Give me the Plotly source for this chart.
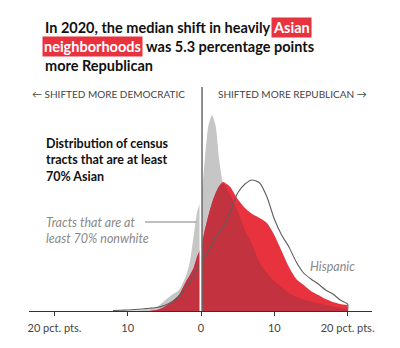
import plotly.graph_objects as go

# Shift in two-party margin, 2016 -> 2020 (percentage points, + = more Republican)
shift = [-12, -11, -10, -9, -8, -7, -6, -5, -4, -3, -2, -1.5, -1, -0.5, 0,
         0.5, 1, 1.5, 2, 2.5, 3, 3.5, 4, 5, 6, 7, 8, 9, 10, 11, 12, 13, 14,
         15, 16, 17, 18, 19, 20]

# Density of census tracts (relative units) for each group
nonwhite = [0, 0, 0, 0.05, 0.1, 0.2, 0.4, 1.0, 1.6, 2.1, 3.6, 5.0, 7.5, 10.0, 11.1,
            15.0, 18.5, 19.6, 18.5, 15.0, 12.8, 12.2, 11.6, 10.0, 8.1, 6.6, 4.8, 3.8,
            3.0, 2.4, 1.8, 1.4, 1.15, 0.95, 0.8, 0.6, 0.45, 0.3, 0.2]
asian = [0, 0, 0, 0, 0, 0, 0.1, 0.4, 0.9, 1.6, 3.0, 3.6, 4.3, 5.5, 6.3,
         8.0, 9.5, 10.8, 11.8, 12.5, 12.9, 12.7, 12.4, 11.2, 10.3, 9.7, 9.3, 8.8,
         7.6, 6.0, 4.4, 3.2, 2.6, 2.0, 1.6, 1.2, 0.9, 0.7, 0.6]
hispanic = [0.05, 0.07, 0.1, 0.15, 0.2, 0.27, 0.35, 0.55, 0.9, 1.5, 2.4, 3.0, 3.6, 4.2, 4.8,
            5.4, 6.0, 6.7, 7.4, 7.9, 8.4, 9.1, 10.0, 11.8, 12.7, 13.1, 12.8, 11.4,
            9.2, 7.6, 6.4, 4.9, 3.8, 3.2, 2.7, 2.1, 1.7, 1.1, 0.7]

tick_vals = [-20, -10, 0, 10, 20]
tick_text = ["20 pct. pts.", "10", "0", "10", "20 pct. pts."]

GRAY = "#c6c6c6"
RED = "#e8333f"
DARK_RED = "#c2323f"
FONT = "Lato"

# part of the Asian distribution that lies over the nonwhite one
overlap = [min(a, n) for a, n in zip(asian, nonwhite)]

# pixel helpers for placing text around the plot
X0, SX = 201.0, 7.33     # px of 0 pct. pts., px per pct. pt.
Y0, SY = 311.0, 10.0     # px of baseline, px per density unit


def dx(px):
    return (px - X0) / SX


def dy(py):
    return (Y0 - py) / SY


fig = go.Figure()
fig.add_trace(go.Scatter(x=shift, y=nonwhite, mode="lines", fill="tozeroy",
                         line=dict(width=0, color=GRAY, shape="spline", smoothing=0.6),
                         fillcolor=GRAY, hoverinfo="skip"))
fig.add_trace(go.Scatter(x=shift, y=asian, mode="lines", fill="tozeroy",
                         line=dict(width=0, color=RED, shape="spline", smoothing=0.6),
                         fillcolor=RED, hoverinfo="skip"))
fig.add_trace(go.Scatter(x=shift, y=overlap, mode="lines", fill="tozeroy",
                         line=dict(width=0, color=DARK_RED, shape="spline", smoothing=0.6),
                         fillcolor=DARK_RED, hoverinfo="skip"))
fig.add_trace(go.Scatter(x=shift + [shift[-1]], y=hispanic + [0], mode="lines",
                         line=dict(width=1.1, color="#5e5e5e", shape="spline", smoothing=0.6),
                         hoverinfo="skip"))

# zero divider
fig.add_shape(type="line", x0=0, x1=0, y0=0, y1=max(nonwhite) + 0.1,
              line=dict(color="white", width=3))
fig.add_shape(type="line", x0=0.14, x1=0.14, y0=0, y1=dy(87),
              line=dict(color="#222", width=1))
# leader for the nonwhite label
fig.add_shape(type="line", x0=dx(145), x1=dx(197), y0=dy(222), y1=dy(222),
              line=dict(color="#aaaaaa", width=1.5))

ann = []


def text(px, py, s, size, color="#111", bold=False, italic=False, bg=None, anchor="left"):
    ann.append(dict(x=dx(px), y=dy(py), xref="x", yref="y", text=s, showarrow=False,
                    xanchor=anchor, yanchor="middle", align="left",
                    bgcolor=bg, borderpad=1,
                    font=dict(family=FONT, size=size, color=color,
                              weight="bold" if bold else "normal",
                              style="italic" if italic else "normal")))


# headline
HS = 14.5
text(43, 27, "In 2020, the median shift in heavily", HS, bold=True)
text(271, 27, "Asian", HS, color="white", bold=True, bg=RED)
text(42, 46, "neighborhoods", HS, color="white", bold=True, bg=RED)
text(144, 46, "was 5.3 percentage points", HS, bold=True)
text(43, 65, "more Republican", HS, bold=True)

# direction labels
text(30, 94, "\u2190 SHIFTED MORE DEMOCRATIC", 10, color="#444")
text(216, 94, "SHIFTED MORE REPUBLICAN \u2192", 10, color="#444")

# chart notes
text(44, 143, "Distribution of census", 12.5, bold=True)
text(44, 159, "tracts that are at least", 12.5, bold=True)
text(44, 176, "70% Asian", 12.5, bold=True)
text(44, 222, "Tracts that are at", 12.5, color="#8a8a8a", italic=True)
text(44, 238, "least 70% nonwhite", 12.5, color="#8a8a8a", italic=True)
text(308, 266, "Hispanic", 12.5, color="#8a8a8a", italic=True)

fig.update_layout(
    width=400, height=348,
    margin=dict(l=29, r=28, t=0, b=37),
    paper_bgcolor="white", plot_bgcolor="white",
    showlegend=False,
    annotations=ann,
    xaxis=dict(range=[dx(29), dx(372)], showgrid=False, zeroline=False,
               showline=True, linecolor="#333", linewidth=1,
               ticks="outside", ticklen=4, tickcolor="#333", tickwidth=1,
               ticklabelstandoff=3,
               tickvals=tick_vals, ticktext=tick_text,
               tickfont=dict(family=FONT, size=11, color="#444"), fixedrange=True),
    yaxis=dict(range=[0, dy(0)], visible=False, fixedrange=True),
)

fig.write_html("out.html")
